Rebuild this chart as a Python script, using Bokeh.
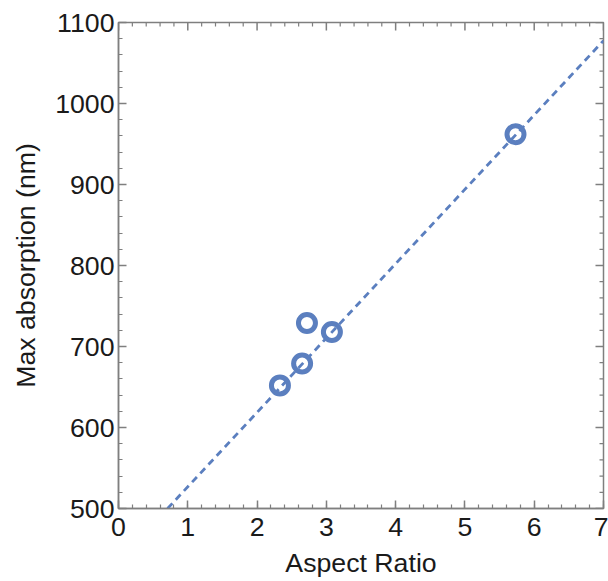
from bokeh.plotting import figure
from bokeh.models import Range1d, LinearAxis, FixedTicker
from bokeh.embed import file_html
from bokeh.resources import INLINE
import numpy as np

# Measured nanorod samples
aspect_ratio = [2.33, 2.65, 2.72, 3.08, 5.73]
max_absorption = [652, 679, 729, 718, 962]

# Linear trend line parameters (nm per unit aspect ratio, nm)
fit_slope = 91.8
fit_intercept = 435.0

x_major = [0, 1, 2, 3, 4, 5, 6, 7]
y_major = [500, 600, 700, 800, 900, 1000, 1100]
x_lo, x_hi = 0, 7
y_lo, y_hi = 500, 1100

BLUE = "#5b7fbf"
AXIS = "#7f7f7f"
TEXT = "#1a1a1a"
FONT = "Liberation Sans"
FSIZE = "26.7px"

p = figure(
    width=608, height=581,
    x_range=Range1d(x_lo, x_hi), y_range=Range1d(y_lo, y_hi),
    output_backend="svg", toolbar_location=None,
    x_axis_location=None, y_axis_location=None,
    min_border_left=118, min_border_right=5,
    min_border_top=22, min_border_bottom=73,
)
p.grid.visible = False
p.outline_line_color = AXIS
p.outline_line_width = 1.5
p.background_fill_color = "white"
p.border_fill_color = "white"

x_minor = [round(v, 3) for v in np.arange(x_lo, x_hi + 1e-6, 0.2)]
y_minor = list(range(y_lo, y_hi + 1, 20))


def style_axis(ax, major, minor):
    ax.ticker = FixedTicker(ticks=major, minor_ticks=minor)
    ax.axis_line_color = AXIS
    ax.axis_line_width = 1.5
    ax.major_tick_line_color = AXIS
    ax.minor_tick_line_color = AXIS
    ax.major_tick_line_width = 1.5
    ax.minor_tick_line_width = 1.2
    ax.major_tick_in = 8
    ax.major_tick_out = 0
    ax.minor_tick_in = 4
    ax.minor_tick_out = 0
    ax.major_label_text_font = FONT
    ax.major_label_text_color = TEXT
    ax.major_label_text_font_size = FSIZE
    ax.major_label_standoff = 4
    ax.axis_label_text_font = FONT
    ax.axis_label_text_font_size = FSIZE
    ax.axis_label_text_font_style = "normal"
    ax.axis_label_text_color = TEXT


xb = LinearAxis(axis_label="Aspect Ratio")
style_axis(xb, x_major, x_minor)
xb.major_label_standoff = 9
xb.axis_label_standoff = 9
p.add_layout(xb, "below")

yl = LinearAxis(axis_label="Max absorption (nm)")
style_axis(yl, y_major, y_minor)
yl.axis_label_standoff = 11
p.add_layout(yl, "left")

# Inward ticks along the top and right edges of the frame (clipped to the frame)
x_minor_only = [v for v in x_minor if v not in x_major]
y_minor_only = [v for v in y_minor if v not in y_major]
p.scatter(x_major, [y_hi] * len(x_major), marker="dash", angle=np.pi / 2,
          size=16, line_color=AXIS, line_width=1.5)
p.scatter(x_minor_only, [y_hi] * len(x_minor_only), marker="dash", angle=np.pi / 2,
          size=8, line_color=AXIS, line_width=1.2)
p.scatter([x_hi] * len(y_major), y_major, marker="dash",
          size=16, line_color=AXIS, line_width=1.5)
p.scatter([x_hi] * len(y_minor_only), y_minor_only, marker="dash",
          size=8, line_color=AXIS, line_width=1.2)

# Trend line across the full x range
fx = [float(x_lo), float(x_hi)]
fy = [fit_intercept + fit_slope * v for v in fx]
p.line(fx, fy, line_color=BLUE, line_width=2.8, line_dash="7 5")

# Data points as open rings
p.scatter(aspect_ratio, max_absorption, size=17, fill_color=None,
          line_color=BLUE, line_width=5)

open("out.html", "w").write(file_html(p, INLINE))
